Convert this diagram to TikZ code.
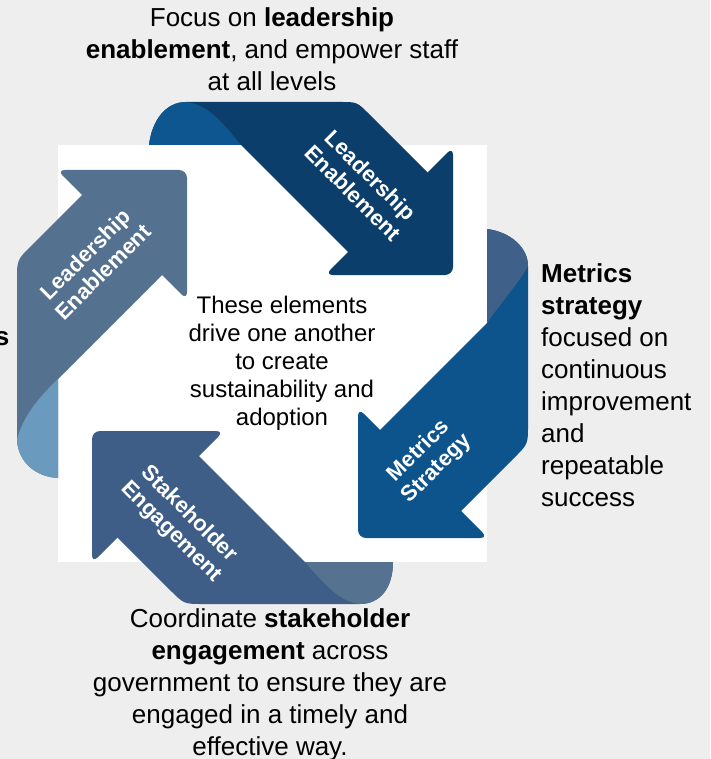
\documentclass[tikz,border=0pt]{standalone}
\usepackage{fontspec}
\setmainfont{Liberation Sans}

\definecolor{fondo}{RGB}{238,238,238}
\definecolor{topfront}{RGB}{12,62,107}
\definecolor{topback}{RGB}{13,86,143}
\definecolor{rightfront}{RGB}{13,84,140}
\definecolor{rightback}{RGB}{63,96,136}
\definecolor{botfront}{RGB}{62,94,135}
\definecolor{botback}{RGB}{85,114,145}
\definecolor{leftfront}{RGB}{84,113,143}
\definecolor{leftback}{RGB}{106,155,190}

\begin{document}
\begin{tikzpicture}[x=1pt, y=-1pt,
    headtip/.style={rounded corners=8pt},
    outertext/.style={inner sep=0pt, font=\fontsize{26}{32}\selectfont},
    innertext/.style={inner sep=0pt, align=center, font=\fontsize{24}{28}\selectfont},
    armlabel/.style={inner sep=0pt, align=center, text=white, font=\bfseries\fontsize{22}{25}\selectfont}]

    % Fondo y cuadro blanco
    \useasboundingbox (0,0) rectangle (710,759);
    \fill[fondo] (0,0) rectangle (710,759);
    \fill[white] (58,145) rectangle (487,562);

    % Flecha superior
    \fill[topfront] (241,145) -- (352,256) -- (431.5,176.5) -- (369,114) .. controls (357,102) .. (341,102)
        -- (186,102) .. controls (166,102) and (152,120) .. (149,145) -- cycle;
    \fill[topback] (149,145) .. controls (152,120) and (166,102) .. (186,102)
        .. controls (208,104) and (224,124) .. (241,145) -- cycle;
    \fill[topfront, headtip] (453,147) -- (453,275) -- (325,275) -- cycle;

    % Flecha derecha
    \fill[rightfront] (487,323) -- (376,434) -- (457,515) -- (514.6,457.4) .. controls (528,444) .. (528,425)
        -- (528,266) .. controls (528,248) and (511,232) .. (487,229) -- cycle;
    \fill[rightback] (487,229) .. controls (511,232) and (528,248) .. (528,266)
        .. controls (518,284) and (503,300) .. (487,323) -- cycle;
    \fill[rightfront, headtip] (358,408) -- (358,538) -- (488,538) -- cycle;

    % Flecha inferior
    \fill[botfront] (305,562) -- (195,452) -- (113.5,533.5) -- (170,590) .. controls (184,604) .. (203,604)
        -- (360,604) .. controls (380,604) and (393,588) .. (393,562) -- cycle;
    \fill[botback] (305,562) .. controls (325,585) and (340,602) .. (360,604)
        .. controls (380,604) and (393,588) .. (393,562) -- cycle;
    \fill[botfront, headtip] (92,431) -- (224,431) -- (92,563) -- cycle;

    % Flecha izquierda
    \fill[leftfront] (58,379) -- (166,271) -- (86,191) -- (31,246) .. controls (17,260) .. (17,280)
        -- (17,440) .. controls (18,462) and (36,477) .. (58,478) -- cycle;
    \fill[leftback] (58,379) .. controls (38,398) and (22,418) .. (17,440)
        .. controls (18,462) and (36,477) .. (58,478) -- cycle;
    \fill[leftfront, headtip] (57,170) -- (187,170) -- (187,300) -- cycle;

    % Etiquetas de las flechas
    \node[armlabel, rotate=-45] (toplabel) at (362,184) {Leadership\\Enablement};
    \node[armlabel, rotate=45] (rightlabel) at (428,460) {Metrics\\Strategy};
    \node[armlabel, rotate=-45] (botlabel) at (180,523) {Stakeholder\\Engagement};
    \node[armlabel, rotate=45] (leftlabel) at (94,263) {Leadership\\Enablement};

    % Textos
    \node[innertext, anchor=north] (centertext) at (282,295.8)
        {These elements\\drive one another\\to create\\sustainability and\\adoption};
    \node[outertext, align=center, anchor=north] (toptext) at (272,7.4)
        {Focus on \textbf{leadership}\\\textbf{enablement}, and empower staff\\at all levels};
    \node[outertext, align=left, anchor=north west] (righttext) at (541,263.4)
        {\textbf{Metrics}\\\textbf{strategy}\\focused on\\continuous\\improvement\\and\\repeatable\\success};
    \node[outertext, align=center, anchor=north] (bottext) at (270,608.2)
        {Coordinate \textbf{stakeholder}\\\textbf{engagement} across\\government to ensure they are\\engaged in a timely and\\effective way.};
    \node[outertext, anchor=base east] (lefttext) at (9.5,345) {\textbf{s}};

\end{tikzpicture}
\end{document}
